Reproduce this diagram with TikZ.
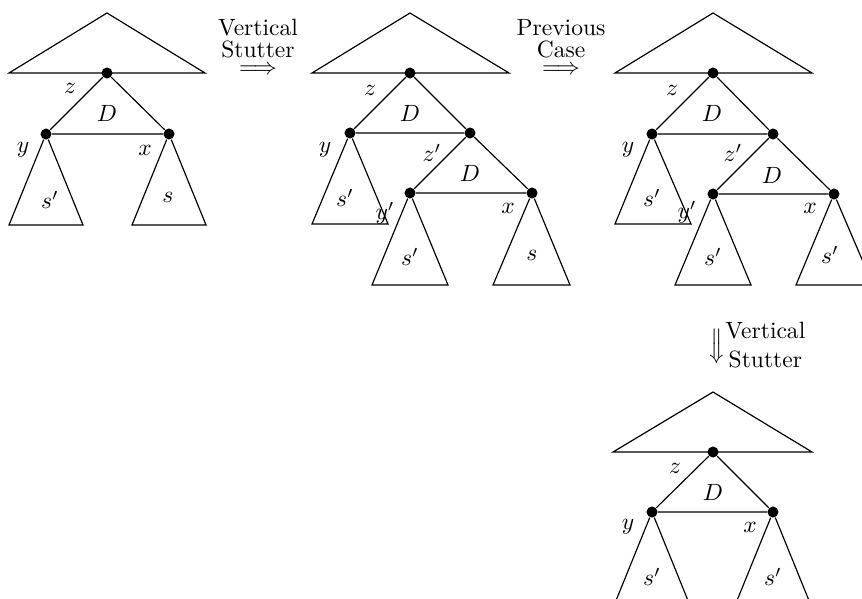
\documentclass[tikz,border=0pt]{standalone}
\usepackage{amsmath}
\usetikzlibrary{positioning}
\tikzset{
  every node/.style={font=\normalsize},
  edge/.style={black,line width=0.5pt},
  dot/.style={circle,fill=black,inner sep=0pt,minimum size=4.7pt},
  treelabel/.style={inner sep=0pt},
  steplabel/.style={align=center,inner sep=0pt},
  steparrow/.style={inner sep=0pt}
}
\begin{document}
\begin{tikzpicture}[x=0.425pt,y=-0.425pt]
\useasboundingbox (0,0) rectangle (862,598);
% first tree
\begin{scope}[shift={(107,73)}]
  \coordinate (T1top) at (0,-60);
  \coordinate (T1bl) at (-98,0);
  \coordinate (T1br) at (98,0);
  \coordinate (T1yl) at (-98,152);
  \coordinate (T1yr) at (-24,152);
  \coordinate (T1xl) at (25,152);
  \coordinate (T1xr) at (99,152);
  \node[dot] (T1z) at (0,0) {};
  \node[dot] (T1y) at (-61,61) {};
  \node[dot] (T1x) at (62,61) {};
  \draw[edge] (T1bl) -- (T1top) -- (T1br) -- cycle;
  \draw[edge] (T1z) -- (T1y) -- (T1x) -- (T1z);
  \draw[edge] (T1y) -- (T1yl) -- (T1yr) -- (T1y);
  \draw[edge] (T1x) -- (T1xl) -- (T1xr) -- (T1x);
  \node[treelabel] (T1zl) at (-37,15) {$z$};
  \node[treelabel] (T1D) at (0,40) {$D$};
  \node[treelabel] (T1yn) at (-84,77) {$y$};
  \node[treelabel] (T1xn) at (38,77) {$x$};
  \node[treelabel] (T1ys) at (-57,127) {$s'$};
  \node[treelabel] (T1xs) at (61,124) {$s$};
\end{scope}
% second tree
\begin{scope}[shift={(410,73)}]
  \coordinate (T2top) at (0,-60);
  \coordinate (T2bl) at (-98,0);
  \coordinate (T2br) at (99,0);
  \coordinate (T2yl) at (-98,151);
  \coordinate (T2yr) at (-22,151);
  \coordinate (T2ul) at (-38,212);
  \coordinate (T2ur) at (38,212);
  \coordinate (T2xl) at (83,212);
  \coordinate (T2xr) at (160,212);
  \node[dot] (T2z) at (0,0) {};
  \node[dot] (T2y) at (-60,60) {};
  \node[dot] (T2w) at (60,60) {};
  \node[dot] (T2u) at (0,120) {};
  \node[dot] (T2x) at (122,120) {};
  \draw[edge] (T2bl) -- (T2top) -- (T2br) -- cycle;
  \draw[edge] (T2z) -- (T2y) -- (T2w) -- (T2z);
  \draw[edge] (T2w) -- (T2u) -- (T2x) -- (T2w);
  \draw[edge] (T2y) -- (T2yl) -- (T2yr) -- (T2y);
  \draw[edge] (T2u) -- (T2ul) -- (T2ur) -- (T2u);
  \draw[edge] (T2x) -- (T2xl) -- (T2xr) -- (T2x);
  \node[treelabel] (T2zl) at (-40,17) {$z$};
  \node[treelabel] (T2D) at (0,40) {$D$};
  \node[treelabel] (T2yn) at (-85,77) {$y$};
  \node[treelabel] (T2wn) at (22,80) {$z'$};
  \node[treelabel] (T2Dw) at (60,100) {$D$};
  \node[treelabel] (T2un) at (-25,140) {$y'$};
  \node[treelabel] (T2xn) at (98,135) {$x$};
  \node[treelabel] (T2ys) at (-65,125) {$s'$};
  \node[treelabel] (T2us) at (0,184) {$s'$};
  \node[treelabel] (T2xs) at (122,182) {$s$};
\end{scope}
% third tree
\begin{scope}[shift={(713,73)}]
  \coordinate (T3top) at (0,-60);
  \coordinate (T3bl) at (-98,0);
  \coordinate (T3br) at (99,0);
  \coordinate (T3yl) at (-98,151);
  \coordinate (T3yr) at (-22,151);
  \coordinate (T3ul) at (-38,212);
  \coordinate (T3ur) at (38,212);
  \coordinate (T3xl) at (83,212);
  \coordinate (T3xr) at (160,212);
  \node[dot] (T3z) at (0,0) {};
  \node[dot] (T3y) at (-61,61) {};
  \node[dot] (T3w) at (60,61) {};
  \node[dot] (T3u) at (0,121) {};
  \node[dot] (T3x) at (121,121) {};
  \draw[edge] (T3bl) -- (T3top) -- (T3br) -- cycle;
  \draw[edge] (T3z) -- (T3y) -- (T3w) -- (T3z);
  \draw[edge] (T3w) -- (T3u) -- (T3x) -- (T3w);
  \draw[edge] (T3y) -- (T3yl) -- (T3yr) -- (T3y);
  \draw[edge] (T3u) -- (T3ul) -- (T3ur) -- (T3u);
  \draw[edge] (T3x) -- (T3xl) -- (T3xr) -- (T3x);
  \node[treelabel] (T3zl) at (-41,17) {$z$};
  \node[treelabel] (T3D) at (-1,40) {$D$};
  \node[treelabel] (T3yn) at (-85,77) {$y$};
  \node[treelabel] (T3wn) at (20,80) {$z'$};
  \node[treelabel] (T3Dw) at (59,102) {$D$};
  \node[treelabel] (T3un) at (-26,139) {$y'$};
  \node[treelabel] (T3xn) at (97,135) {$x$};
  \node[treelabel] (T3ys) at (-61,125) {$s'$};
  \node[treelabel] (T3us) at (0,184) {$s'$};
  \node[treelabel] (T3xs) at (117,182) {$s'$};
\end{scope}
% fourth tree
\begin{scope}[shift={(713,452)}]
  \coordinate (T4top) at (0,-60);
  \coordinate (T4bl) at (-100,0);
  \coordinate (T4br) at (99,0);
  \coordinate (T4yl) at (-98,151);
  \coordinate (T4yr) at (-24,151);
  \coordinate (T4xl) at (23,151);
  \coordinate (T4xr) at (97,151);
  \node[dot] (T4z) at (0,0) {};
  \node[dot] (T4y) at (-61,60) {};
  \node[dot] (T4x) at (60,60) {};
  \draw[edge] (T4bl) -- (T4top) -- (T4br) -- cycle;
  \draw[edge] (T4z) -- (T4y) -- (T4x) -- (T4z);
  \draw[edge] (T4y) -- (T4yl) -- (T4yr) -- (T4y);
  \draw[edge] (T4x) -- (T4xl) -- (T4xr) -- (T4x);
  \node[treelabel] (T4zl) at (-38,16) {$z$};
  \node[treelabel] (T4D) at (0,40) {$D$};
  \node[treelabel] (T4yn) at (-85,75) {$y$};
  \node[treelabel] (T4xn) at (37,75) {$x$};
  \node[treelabel] (T4ys) at (-61,125) {$s'$};
  \node[treelabel] (T4xs) at (60,125) {$s'$};
\end{scope}
% steps between the trees
\node[steparrow] (step1) at (258,70) {$\Longrightarrow$};
\node[steplabel,above=3pt of step1] (step1l) {Vertical\\[-3pt]Stutter};
\node[steparrow] (step2) at (561,70) {$\Longrightarrow$};
\node[steplabel,above=3pt of step2] (step2l) {Previous\\[-3pt]Case};
\node[steparrow,rotate=-90] (step3) at (715,346) {$\Longrightarrow$};
\node[steplabel,anchor=west] (step3l) at (725,345) {Vertical\\Stutter};
\end{tikzpicture}
\end{document}
